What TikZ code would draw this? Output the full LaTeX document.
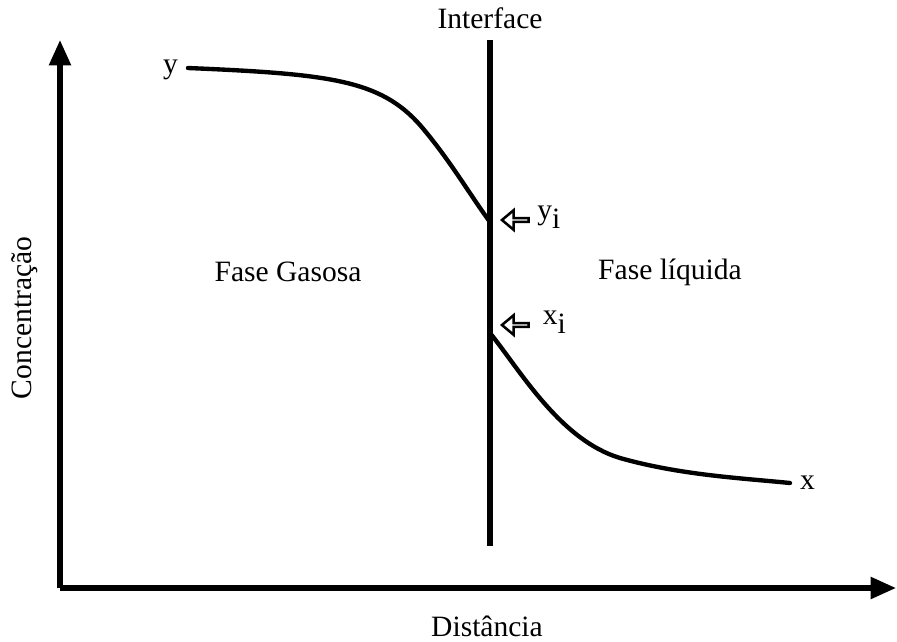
\documentclass[tikz,border=0pt]{standalone}
\usepackage{fontspec}
\setmainfont{Liberation Serif}
\usetikzlibrary{arrows.meta, positioning, shapes.arrows}
\tikzset{
  every picture/.style={font=\fontsize{21}{25}\selectfont},
  axis/.style={line width=3.6pt, -{Triangle[length=18pt, width=15pt]}},
  curve/.style={line width=3.1pt, line cap=round},
  wall/.style={line width=3.6pt},
  pointer/.style={single arrow, draw, line width=1.8pt, shape border rotate=180, minimum height=19pt, minimum width=14pt, single arrow head extend=3.8pt, single arrow tip angle=80, inner sep=0pt, anchor=tip},
  lbl/.style={inner sep=1pt},
}
\newcommand{\sub}[2]{#1\raisebox{-0.6ex}{#2}}

\begin{document}
\begin{tikzpicture}[x=0.025cm, y=-0.025cm]
  \useasboundingbox (0,0) rectangle (897,641);
  % axes
  \coordinate (origin) at (60,588);
  \coordinate (ytop) at (60,40);
  \coordinate (xend) at (896,588);
  \draw[axis] (origin) -- (ytop);
  \draw[axis] (origin) -- (xend);
  \node[lbl, rotate=90] (conc) at (25,318) {Concentração};
  \node[lbl] (dist) at (487,626) {Distância};
  % interface
  \coordinate (itop) at (490,40);
  \coordinate (ibot) at (490,546);
  \draw[wall] (itop) -- (ibot);
  \node[lbl] (iface) at (490,18) {Interface};
  % concentration profiles
  \coordinate (ystart) at (188,68);
  \coordinate (yint) at (490,222);
  \coordinate (xint) at (490,333);
  \coordinate (xstop) at (790,483);
  \draw[curve] (ystart) .. controls (330,74) and (380,80) .. (420,125)
    .. controls (450,160) and (470,195) .. (yint);
  \draw[curve] (xint) .. controls (520,370) and (560,440) .. (620,458)
    .. controls (680,475) and (740,478) .. (xstop);
  \node[lbl, anchor=east, yshift=-1pt, xshift=-6pt] (ylbl) at (ystart) {y};
  \node[lbl, right=6pt of xstop] (xlbl) {x};
  % pointers at the interface
  \node[pointer] (yptr) at (500,220) {};
  \node[pointer] (xptr) at (500,325) {};
  \node[lbl, anchor=west] (yi) at ([xshift=4pt, yshift=2pt]yptr.east) {\sub{y}{i}};
  \node[lbl, anchor=west] (xi) at ([xshift=8pt, yshift=2pt]xptr.east) {\sub{x}{i}};
  % phases
  \node[lbl] (gas) at (288,272) {Fase Gasosa};
  \node[lbl] (liq) at (670,272) {Fase líquida};
\end{tikzpicture}
\end{document}
